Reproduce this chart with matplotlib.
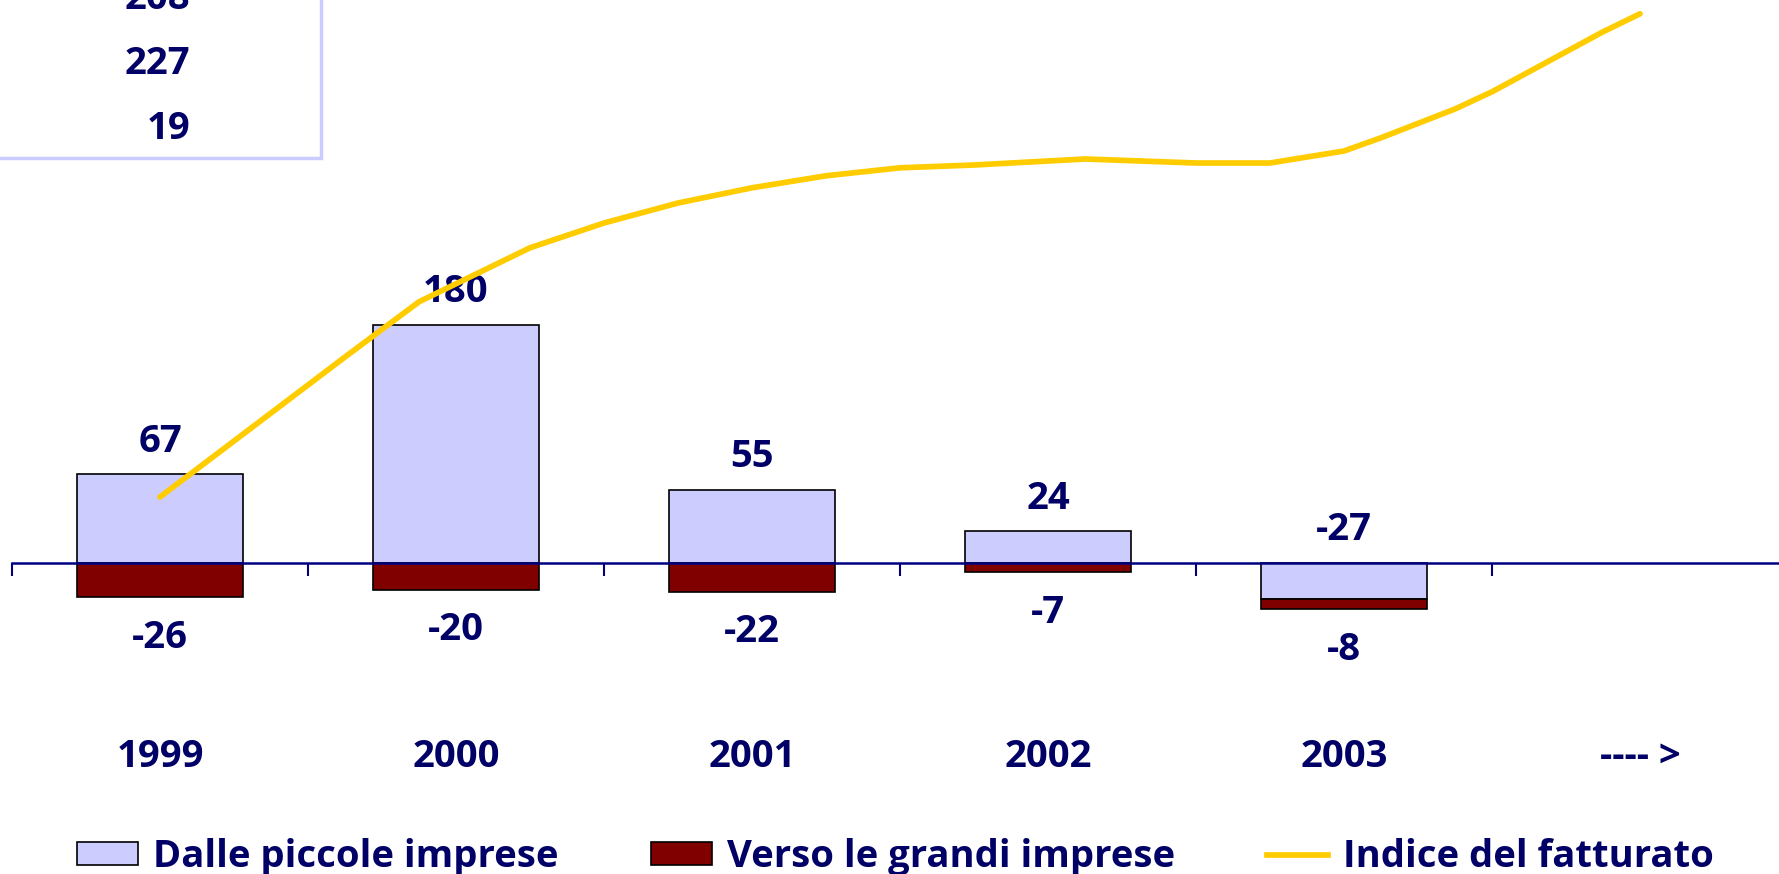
import matplotlib
matplotlib.use('Agg')
import matplotlib.pyplot as plt
from matplotlib.patches import Patch, Rectangle
from matplotlib.lines import Line2D
import matplotlib.transforms as mtransforms

# data
years = ['1999', '2000', '2001', '2002', '2003', '---- >']
piccole = [67, 180, 55, 24, -27]      # Dalle piccole imprese
grandi = [-26, -20, -22, -7, -8]      # Verso le grandi imprese
# turnover index, time in years after 1999 (category units)
idx_t = [0, 0.625, 0.875, 1.25, 1.5, 1.75, 2.0, 2.25, 2.5, 2.75,
         3.125, 3.5, 3.75, 3.875, 4.0, 4.125, 4.375, 4.5, 4.875, 5.0]
idx_v = [100, 135, 148.8, 162.3, 168.5, 173.5, 177.3, 180.3, 182.3, 183,
         184.5, 183.5, 183.5, 185, 186.5, 189.8, 197, 201.3, 216.3, 220.8]
table_vals = ['208', '227', '19']

navy = '#000066'
lav = '#CCCCFF'
red = '#800000'
yellow = '#FFCC00'

plt.rcParams['font.family'] = ['Open Sans', 'DejaVu Sans']
plt.rcParams['font.weight'] = 'bold'
fs = 27.5

W, H = 1779, 874
fig = plt.figure(figsize=(W / 100, H / 100), dpi=100)
ax = fig.add_axes([12 / W, 0, 1776 / W, 1])
ax.set_xlim(-0.5, 5.5)
ax.set_ylim(-(H - 563) / 1.325, 563 / 1.325)

x = list(range(len(piccole)))
ax.bar(x, piccole, width=0.56, color=lav, edgecolor='black', linewidth=1.2, zorder=2)
bottoms = [min(p, 0) for p in piccole]
ax.bar(x, grandi, width=0.56, bottom=bottoms, color=red, edgecolor='black', linewidth=1.2, zorder=2)

for i, p in enumerate(piccole):
    ax.annotate(str(p), (i, max(p, 0)), xytext=(0, 23.5), textcoords='offset points',
                ha='center', va='center', fontsize=fs, color=navy, fontweight='bold')
for i, (g, b) in enumerate(zip(grandi, bottoms)):
    ax.annotate(str(g), (i, g + b), xytext=(0, -29), textcoords='offset points',
                ha='center', va='center', fontsize=fs, color=navy, fontweight='bold')

# category labels
trans = mtransforms.blended_transform_factory(ax.transData, fig.transFigure)
for i, yr in enumerate(years):
    ax.text(i, 1 - 757 / H, yr, transform=trans, ha='center', va='center',
            fontsize=fs, color=navy, fontweight='bold')

for s in ['left', 'right', 'top']:
    ax.spines[s].set_visible(False)
ax.spines['bottom'].set_position(('data', 0))
ax.spines['bottom'].set_color('#000080')
ax.spines['bottom'].set_linewidth(1.8)
ax.set_xticks([i - 0.5 for i in range(len(years) + 1)])
ax.tick_params(axis='x', direction='out', length=9.5, width=1.5, color='#000080',
               labelbottom=False)
ax.set_yticks([])

# index on hidden secondary axis
ax2 = ax.twinx()
ax2.set_ylim(100 - (H - 497) / 4, 100 + 497 / 4)
ax2.plot(idx_t, idx_v, color=yellow, lw=4.1, solid_capstyle='round', zorder=3)
ax2.set_yticks([])
for s in ax2.spines.values():
    s.set_visible(False)

# partial data table box at top left
fig.patches.append(Rectangle((-10 / W, 1 - 158 / H), 331 / W, 200 / H,
                             transform=fig.transFigure, fill=False,
                             edgecolor='#CCCCFF', linewidth=2.5))
for k, v in enumerate(table_vals):
    fig.text(190 / W, 1 - (-1 + 65 * k) / H, v, ha='right', va='center',
             fontsize=fs, color=navy, fontweight='bold')

handles = [Patch(facecolor=lav, edgecolor='black', linewidth=1.2),
           Patch(facecolor=red, edgecolor='black', linewidth=1.2),
           Line2D([], [], color=yellow, lw=4.1)]
labels = ['Dalle piccole imprese', 'Verso le grandi imprese', 'Indice del fatturato']
leg = fig.legend(handles, labels, loc='center left', bbox_to_anchor=(77 / W, 1 - 857 / H),
                 ncol=3, frameon=False, borderpad=0, borderaxespad=0,
                 handlelength=1.6, handleheight=0.52, handletextpad=0.4,
                 columnspacing=2.4, prop={'size': fs, 'weight': 'bold'})
for t in leg.get_texts():
    t.set_color(navy)

fig.savefig('out.png', dpi=100)
